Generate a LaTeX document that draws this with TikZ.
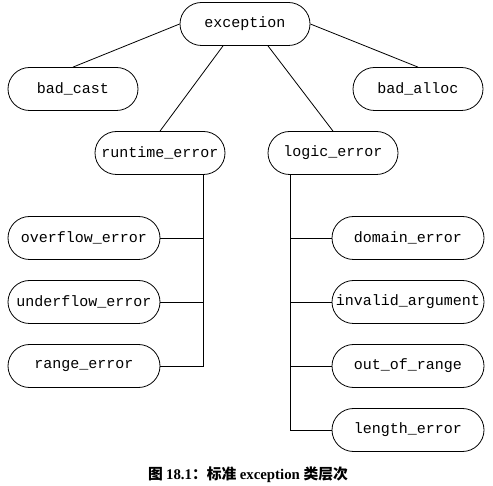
\documentclass[tikz,border=0pt]{standalone}
\usepackage{fontspec}
\setmonofont{Liberation Mono}
\newfontfamily\cjk{Noto Sans CJK SC}
\newfontfamily\capserif{Liberation Serif}
\begin{document}
\begin{tikzpicture}[x=1pt,y=-1pt,
  cls/.style={draw, line width=0.8pt, rounded corners=21.5pt, minimum height=43pt,
    minimum width=130pt, inner sep=0pt, font=\ttfamily\fontsize{15}{15}\selectfont},
  wide/.style={cls, minimum width=152pt},
  link/.style={line width=0.8pt}]
\useasboundingbox (0,0) rectangle (493,486);
\node[cls] (exc) at (245,24) {exception};
\node[cls] (bc) at (73,89) {bad\_cast};
\node[cls] (ba) at (418,89) {bad\_alloc};
\node[cls] (rt) at (160,153) {runtime\_error};
\node[cls] (le) at (333,153) {logic\_error};
\node[wide] (ov) at (84,238) {overflow\_error};
\node[wide] (un) at (84,302) {underflow\_error};
\node[wide] (re) at (84,366) {range\_error};
\node[wide] (de) at (408,238) {domain\_error};
\node[wide] (ia) at (408,302) {invalid\_argument};
\node[wide] (oor) at (408,366) {out\_of\_range};
\node[wide] (len) at (408,430) {length\_error};
\node (cap) at (248,475) {\fontsize{14.8}{15}\selectfont\bfseries\cjk 图 \capserif 18.1\cjk ：标准 \capserif exception \cjk 类层次};
\draw[link] (exc.west) -- (bc.north);
\draw[link] (exc.east) -- (ba.north);
\draw[link] ([xshift=-22pt]exc.south) -- (rt.north);
\draw[link] ([xshift=23pt]exc.south) -- (le.north);
\coordinate (rtb) at ([xshift=43pt]rt.south);
\draw[link] (rtb) |- (re.east);
\draw[link] (ov.east) -- (ov.east -| rtb);
\draw[link] (un.east) -- (un.east -| rtb);
\coordinate (leb) at ([xshift=-43pt]le.south);
\draw[link] (leb) |- (len.west);
\draw[link] (de.west) -- (de.west -| leb);
\draw[link] (ia.west) -- (ia.west -| leb);
\draw[link] (oor.west) -- (oor.west -| leb);
\end{tikzpicture}
\end{document}
